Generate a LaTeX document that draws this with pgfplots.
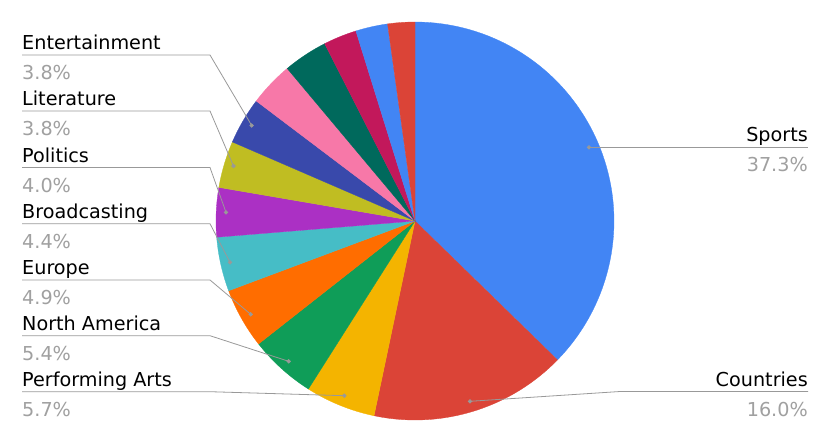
\documentclass[border=0pt]{standalone}
\usepackage{pgfplots}
\pgfplotsset{compat=1.18}
\usepackage{fontspec}
\setmainfont{DejaVu Sans}
\definecolor{cSports}{HTML}{4285F4}
\definecolor{cCountries}{HTML}{DB4437}
\definecolor{cPerf}{HTML}{F4B400}
\definecolor{cNA}{HTML}{0F9D58}
\definecolor{cEurope}{HTML}{FF6D00}
\definecolor{cBroad}{HTML}{46BDC6}
\definecolor{cPol}{HTML}{AB30C4}
\definecolor{cLit}{HTML}{C0BD22}
\definecolor{cEnt}{HTML}{3949AB}
\definecolor{cPink}{HTML}{F778A8}
\definecolor{cDTeal}{HTML}{00695C}
\definecolor{cCrim}{HTML}{C2185B}
\definecolor{lc}{HTML}{999999}
\definecolor{pctc}{HTML}{A0A0A0}
% slice: start cumulative %, end cumulative %, colour
\newcommand{\slice}[3]{\addplot[fill=#3, draw=#3, line width=0.3pt, domain={3.6*#1}:{3.6*#2}, samples=90] ({415+199*sin(x)},{221-199*cos(x)}) -- (axis cs:415,221) -- cycle;}
\newcommand{\llabel}[5]{%
\addplot[lc, line width=0.8pt, mark=*, mark size=1.7pt, mark options={fill=lc, draw=none}, mark indices={3}] coordinates {(22,#3) (210,#3) (#4,#5)};
\node[anchor=base west, text=black, inner sep=0pt] at (axis cs:22,#3-5.5) {#1};
\node[anchor=base west, text=pctc, inner sep=0pt] at (axis cs:22,#3+24.5) {#2};}
\begin{document}
\begin{tikzpicture}
\fontsize{19.2}{23}\selectfont
\begin{axis}[width=830pt, height=442pt, scale only axis, xmin=0, xmax=830, ymin=0, ymax=442, y dir=reverse, axis lines=none, clip=false]
\path (axis cs:0,0) rectangle (axis cs:830,442);
% values (%): 37.3, 16.0, 5.7, 5.4, 4.9, 4.4, 4.0, 3.8, 3.8, 3.6, 3.6, 2.7, 2.6, 2.2
\slice{0}{37.3}{cSports}
\slice{37.3}{53.3}{cCountries}
\slice{53.3}{59.0}{cPerf}
\slice{59.0}{64.4}{cNA}
\slice{64.4}{69.3}{cEurope}
\slice{69.3}{73.7}{cBroad}
\slice{73.7}{77.7}{cPol}
\slice{77.7}{81.5}{cLit}
\slice{81.5}{85.3}{cEnt}
\slice{85.3}{88.9}{cPink}
\slice{88.9}{92.5}{cDTeal}
\slice{92.5}{95.2}{cCrim}
\slice{95.2}{97.8}{cSports}
\slice{97.8}{100}{cCountries}
\llabel{Entertainment}{3.8\%}{55}{251.7}{125.5}
\llabel{Literature}{3.8\%}{111}{233.5}{166}
\llabel{Politics}{4.0\%}{167.5}{226}{212.3}
\llabel{Broadcasting}{4.4\%}{223.7}{230}{262.3}
\llabel{Europe}{4.9\%}{280}{250.7}{314.3}
\llabel{North America}{5.4\%}{335.7}{288.7}{361.3}
\llabel{Performing Arts}{5.7\%}{391.7}{344.3}{395.7}
\addplot[lc, line width=0.8pt, mark=*, mark size=1.7pt, mark options={fill=lc, draw=none}, mark indices={1}] coordinates {(589,147.3) (808,147.3)};
\node[anchor=base east, text=black, inner sep=0pt] at (axis cs:808,141.8) {Sports};
\node[anchor=base east, text=pctc, inner sep=0pt] at (axis cs:808,171.8) {37.3\%};
\addplot[lc, line width=0.8pt, mark=*, mark size=1.7pt, mark options={fill=lc, draw=none}, mark indices={1}] coordinates {(470,401.3) (620,391.5) (808,391.5)};
\node[anchor=base east, text=black, inner sep=0pt] at (axis cs:808,386) {Countries};
\node[anchor=base east, text=pctc, inner sep=0pt] at (axis cs:808,416) {16.0\%};
\end{axis}
\end{tikzpicture}
\end{document}
